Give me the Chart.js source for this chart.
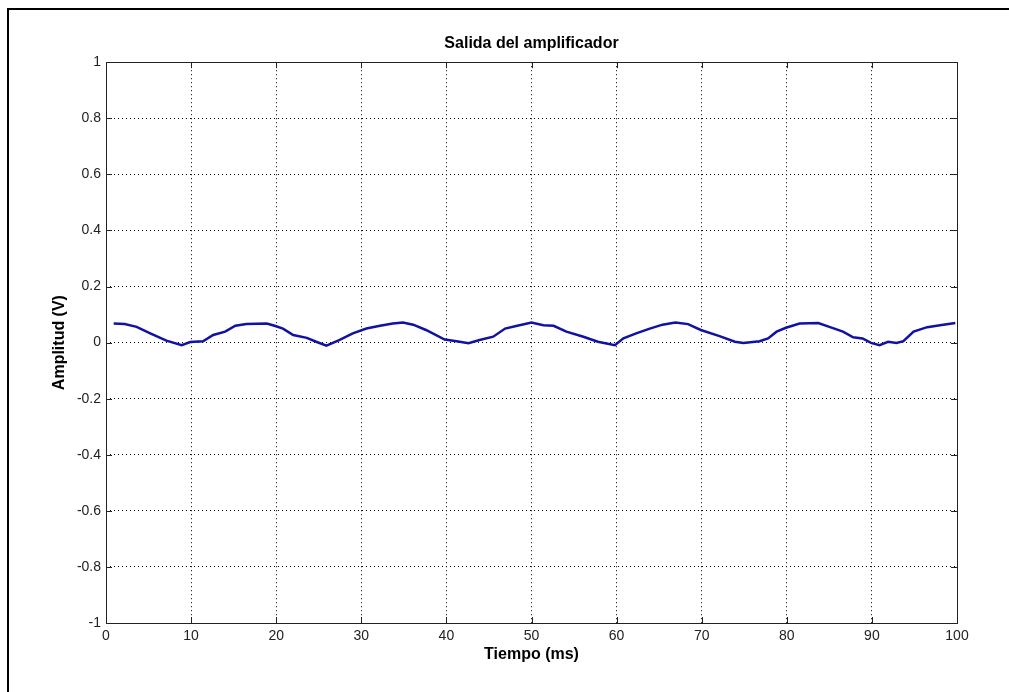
<!DOCTYPE html>
<html>
<head>
<meta charset="utf-8">
<script src="https://cdn.jsdelivr.net/npm/chart.js@4"></script>
<style>
  body { margin: 0; background: #fff; }
  canvas { display: block; }
</style>
</head>
<body>
<canvas id="ampChart" width="1009" height="692"></canvas>
<script>
// values
const tiempo = [0.9, 2.2, 3.6, 5.2, 7.1, 8.9, 9.9, 11.4, 12.6, 14.0, 15.2, 16.5, 18.9, 19.9, 20.8, 22.0, 23.6, 24.7, 25.9, 27.4,
  29.0, 30.6, 32.2, 33.7, 34.9, 36.1, 37.6, 39.8, 41.2, 42.6, 43.9, 45.5, 46.9, 48.2, 50.0, 51.4, 52.6, 54.1, 56.1, 57.8,
  59.8, 60.8, 62.3, 63.9, 65.4, 66.9, 68.4, 69.9, 72.1, 73.9, 74.9, 76.8, 77.8, 78.8, 79.9, 81.5, 83.7, 85.0, 86.6, 87.8,
  88.9, 89.9, 90.9, 91.9, 92.9, 93.7, 94.9, 96.5, 98.0, 99.8];
const amplitud = [0.068, 0.066, 0.056, 0.033, 0.007, -0.009, 0.002, 0.005, 0.027, 0.039, 0.060, 0.066, 0.068, 0.059, 0.050, 0.027, 0.017, 0.003, -0.011, 0.009,
  0.033, 0.050, 0.060, 0.068, 0.072, 0.064, 0.045, 0.011, 0.005, -0.002, 0.009, 0.021, 0.050, 0.059, 0.072, 0.062, 0.060, 0.039, 0.021, 0.003,
  -0.009, 0.015, 0.033, 0.050, 0.064, 0.072, 0.066, 0.045, 0.023, 0.003, -0.001, 0.005, 0.015, 0.039, 0.053, 0.068, 0.070, 0.056, 0.039, 0.019,
  0.015, -0.001, -0.009, 0.003, -0.001, 0.005, 0.039, 0.055, 0.062, 0.070];
const xTickLabels = ['0', '10', '20', '30', '40', '50', '60', '70', '80', '90', '100'];
const yTickLabels = ['-1', '-0.8', '-0.6', '-0.4', '-0.2', '0', '0.2', '0.4', '0.6', '0.8', '1'];

const FONT = "'Liberation Sans', Arial, sans-serif";

// matlab-ish box, inner tick marks and the figure frame
const boxPlugin = {
  id: 'matlabBox',
  beforeDraw(chart) {
    const ctx = chart.ctx;
    ctx.save();
    ctx.strokeStyle = '#000';
    ctx.lineWidth = 2;
    ctx.beginPath();
    ctx.moveTo(1009, 9);
    ctx.lineTo(8, 9);
    ctx.lineTo(8, 692);
    ctx.stroke();
    ctx.restore();
  },
  afterDraw(chart) {
    const { ctx, chartArea: a, scales } = chart;
    const len = 6;
    ctx.save();
    ctx.strokeStyle = '#222';
    ctx.lineWidth = 1;
    ctx.beginPath();
    scales.x.ticks.forEach(t => {
      const px = Math.round(scales.x.getPixelForValue(t.value)) + 0.5;
      ctx.moveTo(px, a.bottom); ctx.lineTo(px, a.bottom - len);
      ctx.moveTo(px, a.top); ctx.lineTo(px, a.top + len);
    });
    scales.y.ticks.forEach(t => {
      const py = Math.round(scales.y.getPixelForValue(t.value)) + 0.5;
      ctx.moveTo(a.left, py); ctx.lineTo(a.left + len, py);
      ctx.moveTo(a.right, py); ctx.lineTo(a.right - len, py);
    });
    ctx.stroke();
    ctx.strokeRect(Math.round(a.left) + 0.5, Math.round(a.top) + 0.5,
      Math.round(a.right - a.left), Math.round(a.bottom - a.top));
    ctx.restore();
  }
};

const ctx = document.getElementById('ampChart').getContext('2d');
new Chart(ctx, {
  type: 'line',
  data: {
    datasets: [{
      data: tiempo.map((t, i) => ({ x: t, y: amplitud[i] })),
      borderColor: '#1212a2',
      borderWidth: 2.5,
      pointRadius: 0,
      tension: 0,
      fill: false,
    }],
  },
  options: {
    animation: false,
    responsive: false,
    devicePixelRatio: 1,
    layout: { padding: { left: 0, right: 52, top: 0, bottom: 0 } },
    plugins: {
      legend: { display: false },
      tooltip: { enabled: false },
      title: {
        display: true,
        text: 'Salida del amplificador',
        fullSize: false,
        color: '#000',
        font: { family: FONT, size: 16, weight: 'bold', lineHeight: 1.2 },
        padding: { top: 34, bottom: 9 },
      },
    },
    scales: {
      x: {
        type: 'linear',
        min: 0,
        max: 100,
        afterFit: (s) => { s.height = 69; },
        ticks: {
          stepSize: 10,
          padding: 5,
          color: '#222',
          font: { family: FONT, size: 14 },
          maxRotation: 0,
          callback: (v, i) => xTickLabels[i],
        },
        grid: { color: '#000', lineWidth: 1, drawTicks: false },
        border: { display: false, dash: [1, 3] },
        title: {
          display: true,
          text: 'Tiempo (ms)',
          color: '#000',
          font: { family: FONT, size: 16, weight: 'bold', lineHeight: 1.2 },
          padding: { top: 0, bottom: 28 },
        },
      },
      y: {
        min: -1,
        max: 1,
        afterFit: (s) => { s.width = 106; },
        ticks: {
          stepSize: 0.2,
          padding: 5,
          color: '#222',
          font: { family: FONT, size: 14 },
          callback: (v, i) => yTickLabels[i],
        },
        grid: { color: '#000', lineWidth: 1, drawTicks: false },
        border: { display: false, dash: [1, 3] },
        title: {
          display: true,
          text: 'Amplitud (V)',
          color: '#000',
          font: { family: FONT, size: 16, weight: 'bold', lineHeight: 1.2 },
          padding: { top: 50, bottom: 0 },
        },
      },
    },
  },
  plugins: [boxPlugin],
});
</script>
</body>
</html>
